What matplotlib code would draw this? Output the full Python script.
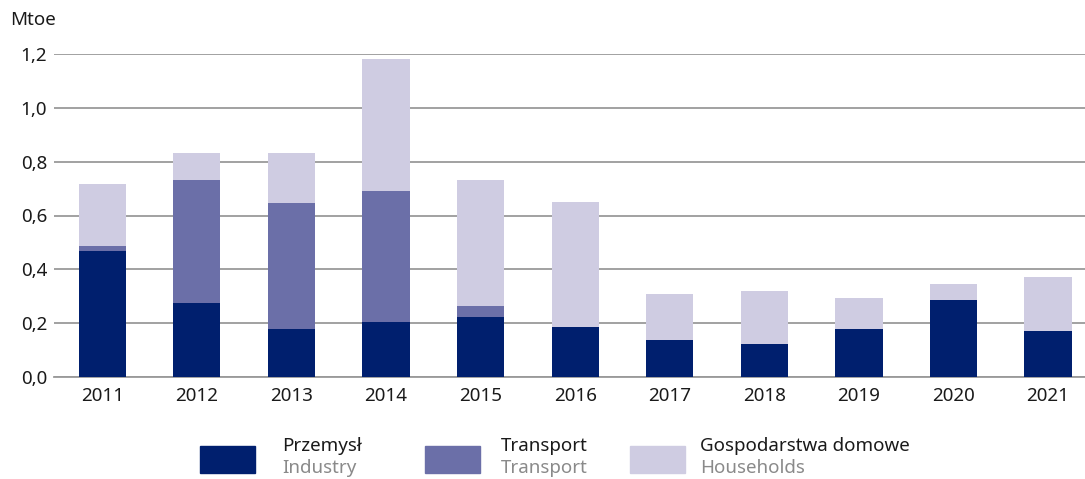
import matplotlib.pyplot as plt
from matplotlib.patches import Rectangle
import numpy as np

plt.rcParams['font.family'] = ['Noto Sans', 'DejaVu Sans']

years = ['2011', '2012', '2013', '2014', '2015', '2016', '2017', '2018', '2019', '2020', '2021']
industry = [0.468, 0.275, 0.178, 0.204, 0.223, 0.184, 0.137, 0.121, 0.178, 0.286, 0.171]
transport = [0.019, 0.457, 0.468, 0.487, 0.041, 0.003, 0.0, 0.003, 0.0, 0.0, 0.0]
households = [0.230, 0.100, 0.186, 0.490, 0.468, 0.464, 0.171, 0.195, 0.115, 0.059, 0.200]

labels_pl = ['Przemysł', 'Transport', 'Gospodarstwa domowe']
labels_en = ['Industry', 'Transport', 'Households']
colors = ['#001f6e', '#6b6fa8', '#cfcce2']

W, H = 1085, 479
FS = 13.5
fig = plt.figure(figsize=(W / 100, H / 100), dpi=100)
ax = fig.add_axes([54 / W, (H - 377) / H, 1 - 54 / W, 323 / H])

x = np.arange(len(years))
bottom = np.zeros(len(years))
for vals, c in zip([industry, transport, households], colors):
    ax.bar(x, vals, width=0.5, bottom=bottom, color=c, zorder=3)
    bottom += np.array(vals)

ax.set_ylim(0, 1.2)
ax.set_xlim(-0.51, 10.39)
ax.set_yticks(np.arange(0, 1.21, 0.2))
ax.set_yticklabels([f'{v:.1f}'.replace('.', ',') for v in np.arange(0, 1.21, 0.2)])
ax.set_xticks(x)
ax.set_xticklabels(years)
ax.yaxis.grid(True, color='#9a9a9a', linewidth=1.3, zorder=0)
ax.set_axisbelow(True)
for s in ['top', 'right', 'left']:
    ax.spines[s].set_visible(False)
ax.spines['bottom'].set_color('#9a9a9a')
ax.spines['bottom'].set_linewidth(1.3)
ax.tick_params(axis='both', length=0, labelsize=FS, colors='#1a1a1a')
ax.tick_params(axis='y', pad=5)
ax.tick_params(axis='x', pad=7)

fig.text(10 / W, 1 - 20 / H, 'Mtoe', fontsize=FS, color='#1a1a1a', va='center')

# legend
patch_x = [200, 425, 630]
text_x = [282, 501, 700]
for px, tx, c, lp, le in zip(patch_x, text_x, colors, labels_pl, labels_en):
    fig.add_artist(Rectangle((px / W, 1 - 473 / H), 55 / W, 27 / H,
                             transform=fig.transFigure, color=c))
    fig.text(tx / W, 1 - 446 / H, lp, fontsize=FS, color='#1a1a1a', va='center')
    fig.text(tx / W, 1 - 468 / H, le, fontsize=FS, color='#8a8a8a', va='center')

fig.savefig('out.png', dpi=100)
